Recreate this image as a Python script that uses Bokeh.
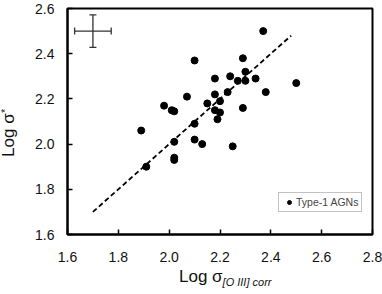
from bokeh.plotting import figure
from bokeh.models import (Range1d, FixedTicker, Whisker, TeeHead,
                          ColumnDataSource, Legend, LegendItem, Div)
from bokeh.layouts import row, column
from bokeh.embed import file_html
from bokeh.resources import INLINE

# ---- data ----
log_sigma_oiii = [2.10, 2.07, 1.98, 2.01, 2.02, 2.15, 2.10, 1.89, 2.02, 2.10,
                  2.13, 2.02, 2.02, 1.91, 2.37, 2.29, 2.30, 2.24, 2.18, 2.27,
                  2.30, 2.34, 2.50, 2.38, 2.18, 2.23, 2.20, 2.18, 2.20, 2.19,
                  2.29, 2.25]
log_sigma_star = [2.37, 2.21, 2.17, 2.15, 2.145, 2.18, 2.09, 2.06, 2.01, 2.02,
                  2.00, 1.94, 1.93, 1.90, 2.50, 2.38, 2.32, 2.30, 2.29, 2.28,
                  2.28, 2.29, 2.27, 2.23, 2.22, 2.23, 2.19, 2.15, 2.14, 2.11,
                  2.16, 1.99]
one_to_one = [1.70, 2.48]
err_center_x = [1.70]
err_center_y = [2.50]
err_x = [0.072]
err_y = [0.072]
x_ticks = [1.6, 1.8, 2.0, 2.2, 2.4, 2.6, 2.8]
y_ticks = [1.6, 1.8, 2.0, 2.2, 2.4, 2.6]
legend_label = "Type-1 AGNs"
x_title_main, x_title_sub = "Log σ", "[O III] corr"
y_title_main, y_title_sub = "Log σ", "*"

FONT = "Liberation Sans"
TXT = "#111111"

p = figure(width=358, height=268, output_backend="svg", toolbar_location=None,
           x_range=Range1d(1.6, 2.8), y_range=Range1d(1.6, 2.6),
           min_border_left=43, min_border_right=10, min_border_top=8,
           min_border_bottom=34, margin=0)
p.grid.visible = False
p.outline_line_color = "black"
p.outline_line_width = 2
p.background_fill_color = "white"
p.border_fill_color = "white"

for ax, ticks in ((p.xaxis[0], x_ticks), (p.yaxis[0], y_ticks)):
    ax.ticker = FixedTicker(ticks=ticks)
    ax.major_label_overrides = {t: f"{t:.1f}" for t in ticks}
    ax.axis_line_width = 2
    ax.axis_line_color = "black"
    ax.major_tick_in = 5
    ax.major_tick_out = 0
    ax.major_tick_line_width = 1.5
    ax.minor_tick_line_color = None
    ax.major_label_text_font = FONT
    ax.major_label_text_font_size = "14px"
    ax.major_label_text_color = TXT
    ax.axis_label = None
p.xaxis.major_label_standoff = 17
p.yaxis.major_label_standoff = 13

# 1:1 dashed line
p.line(one_to_one, one_to_one, line_color="black", line_width=1.8,
       line_dash="5 3")

# points
r = p.scatter(log_sigma_oiii, log_sigma_star, size=7, fill_color="black",
              line_color="black")

# typical error bar
src = ColumnDataSource(dict(
    x=err_center_x, y=err_center_y,
    xl=[c - e for c, e in zip(err_center_x, err_x)],
    xu=[c + e for c, e in zip(err_center_x, err_x)],
    yl=[c - e for c, e in zip(err_center_y, err_y)],
    yu=[c + e for c, e in zip(err_center_y, err_y)]))
def head():
    return TeeHead(size=7, line_color="#333333", line_width=1.3)
p.add_layout(Whisker(base="x", lower="yl", upper="yu", source=src,
                     dimension="height", line_color="#333333", line_width=1.3,
                     upper_head=head(), lower_head=head()))
p.add_layout(Whisker(base="y", lower="xl", upper="xu", source=src,
                     dimension="width", line_color="#333333", line_width=1.3,
                     upper_head=head(), lower_head=head()))

# legend
leg = Legend(items=[LegendItem(label=legend_label, renderers=[r])],
             location=(211, 22), margin=0, padding=3, spacing=0,
             glyph_width=14, glyph_height=10, label_standoff=0,
             label_height=10, label_text_font=FONT,
             label_text_font_size="10.5px", border_line_color="#888888",
             border_line_width=1, background_fill_alpha=1)
p.add_layout(leg)

# axis titles with real subscripts (HTML text)
xdiv = Div(width=358, height=24, margin=0, text=(
    f"<div style=\"font-family:'{FONT}';font-size:17px;line-height:17px;"
    f"padding-left:155px;white-space:nowrap;color:{TXT}\">{x_title_main}"
    f"<span style=\"position:relative;top:4px;font-size:11px;"
    f"font-style:italic\">{x_title_sub}</span></div>"))
ydiv = Div(width=24, height=268, margin=0, text=(
    f"<div style=\"display:inline-block;margin-top:107px;margin-left:0px;"
    f"writing-mode:vertical-rl;transform:rotate(180deg);"
    f"font-family:'{FONT}';font-size:17px;line-height:17px;"
    f"white-space:nowrap;color:{TXT}\">{y_title_main}"
    f"<span style=\"position:relative;left:4px;font-size:11px;"
    f"padding-bottom:2px\">{y_title_sub}</span></div>"))

layout = row(ydiv, column(p, xdiv, spacing=0), spacing=0)

open("out.html", "w").write(file_html(layout, INLINE))
